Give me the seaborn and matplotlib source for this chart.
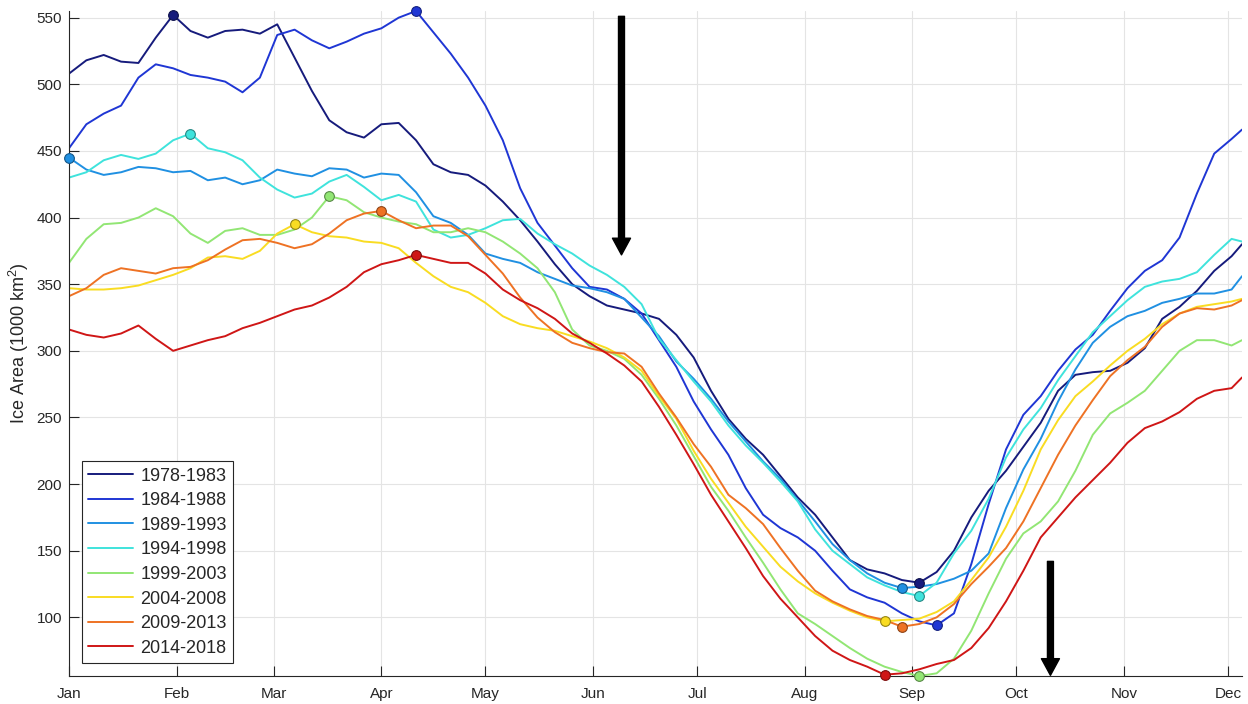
import numpy as np
import pandas as pd
import matplotlib
matplotlib.use('Agg')
import matplotlib.pyplot as plt
from matplotlib.lines import Line2D
import seaborn as sns

# sampling grid (day of year) and month ticks
days = list(range(1, 337, 5)) + [339]
month_days = [1, 32, 60, 91, 121, 152, 182, 213, 244, 274, 305, 335]
month_labels = ['Jan', 'Feb', 'Mar', 'Apr', 'May', 'Jun',
                'Jul', 'Aug', 'Sep', 'Oct', 'Nov', 'Dec']

periods = ['1978-1983', '1984-1988', '1989-1993', '1994-1998',
           '1999-2003', '2004-2008', '2009-2013', '2014-2018']
colors = ['#161b7c', '#1f36d4', '#2090e2', '#3fe3dc',
          '#92e674', '#f9dc22', '#ee7224', '#cf1616']

# ice area (1000 km2), every 5 days
s1978 = [508, 518, 522, 517, 516, 535, 552, 540, 535, 540,
         541, 538, 545, 520, 495, 473, 464, 460, 470, 471,
         458, 440, 434, 432, 424, 412, 398, 382, 365, 350,
         341, 334, 331, 328, 324, 312, 295, 270, 249, 234,
         222, 206, 190, 177, 160, 143, 136, 133, 128, 126,
         134, 150, 175, 195, 210, 228, 246, 270, 282, 284,
         285, 291, 302, 324, 333, 345, 360, 371, 380]
s1984 = [452, 470, 478, 484, 505, 515, 512, 507, 505, 502,
         494, 505, 537, 541, 533, 527, 532, 538, 542, 550,
         555, 539, 523, 505, 484, 458, 422, 396, 379, 362,
         348, 346, 339, 328, 308, 288, 262, 241, 222, 197,
         177, 167, 160, 150, 135, 121, 115, 111, 103, 97,
         94, 103, 140, 185, 226, 252, 266, 285, 301, 312,
         330, 347, 360, 368, 385, 418, 448, 459, 466]
s1989 = [445, 436, 432, 434, 438, 437, 434, 435, 428, 430,
         425, 428, 436, 433, 431, 437, 436, 430, 433, 432,
         419, 401, 396, 387, 373, 369, 366, 359, 354, 349,
         347, 344, 339, 325, 311, 292, 279, 264, 247, 232,
         217, 204, 188, 172, 155, 143, 133, 126, 122, 123,
         125, 129, 135, 148, 182, 211, 234, 262, 286, 306,
         318, 326, 330, 336, 339, 343, 343, 346, 356]
s1994 = [430, 434, 443, 447, 444, 448, 458, 463, 452, 449,
         443, 430, 421, 415, 418, 427, 432, 423, 413, 417,
         412, 391, 385, 387, 392, 398, 399, 388, 380, 373,
         364, 357, 348, 335, 309, 293, 277, 262, 244, 229,
         216, 202, 187, 166, 150, 140, 130, 124, 119, 116,
         126, 148, 165, 189, 220, 241, 257, 278, 296, 314,
         326, 338, 348, 352, 354, 359, 372, 384, 382]
s1999 = [366, 384, 395, 396, 400, 407, 401, 388, 381, 390,
         392, 387, 387, 391, 400, 416, 413, 404, 400, 397,
         395, 389, 389, 392, 389, 382, 373, 362, 344, 316,
         304, 300, 294, 282, 264, 244, 221, 198, 180, 160,
         141, 121, 103, 95, 86, 77, 69, 63, 59, 56,
         58, 69, 90, 118, 144, 163, 172, 187, 210, 237,
         253, 261, 270, 285, 300, 308, 308, 304, 308]
s2004 = [347, 346, 346, 347, 349, 353, 357, 362, 370, 371,
         369, 375, 388, 395, 389, 386, 385, 382, 381, 377,
         366, 356, 348, 344, 336, 326, 320, 317, 315, 311,
         307, 302, 295, 285, 266, 249, 225, 204, 186, 168,
         153, 138, 127, 118, 111, 105, 100, 97, 98, 99,
         104, 112, 128, 145, 168, 195, 226, 248, 266, 277,
         289, 300, 309, 320, 328, 333, 335, 337, 339]
s2009 = [341, 347, 357, 362, 360, 358, 362, 363, 368, 376,
         383, 384, 381, 377, 380, 388, 398, 403, 405, 398,
         392, 394, 394, 386, 372, 358, 340, 325, 314, 306,
         302, 299, 298, 288, 268, 250, 230, 213, 192, 182,
         170, 152, 135, 120, 112, 106, 101, 98, 93, 95,
         100, 110, 125, 138, 152, 172, 197, 222, 244, 263,
         281, 293, 303, 318, 328, 332, 331, 334, 338]
s2014 = [316, 312, 310, 313, 319, 309, 300, 304, 308, 311,
         317, 321, 326, 331, 334, 340, 348, 359, 365, 368,
         372, 369, 366, 366, 358, 346, 338, 332, 324, 313,
         306, 298, 289, 277, 258, 237, 215, 192, 172, 152,
         131, 114, 100, 86, 75, 68, 63, 57, 58, 61,
         65, 68, 77, 92, 112, 135, 160, 175, 190, 203,
         216, 231, 242, 247, 254, 264, 270, 272, 280]

series = [s1978, s1984, s1989, s1994, s1999, s2004, s2009, s2014]

df = pd.DataFrame({
    'day': days * len(series),
    'area': sum(series, []),
    'period': np.repeat(periods, len(days)),
})

sns.set_style('ticks', {'axes.edgecolor': '#262626',
                        'xtick.direction': 'in', 'ytick.direction': 'in'})
plt.rcParams['font.family'] = ['Liberation Sans', 'DejaVu Sans']
plt.rcParams['mathtext.default'] = 'regular'

fig = plt.figure(figsize=(12.48, 7.04), dpi=100)
ax = fig.add_axes([69 / 1248, 28 / 704, 1173 / 1248, 665 / 704])

sns.lineplot(data=df, x='day', y='area', hue='period', hue_order=periods,
             palette=colors, estimator=None, sort=False, linewidth=1.4,
             legend=False, ax=ax)

# max / min markers of each period
for vals, c in zip(series, colors):
    v = np.array(vals)
    edge = tuple(0.6 * np.array(matplotlib.colors.to_rgb(c)))
    for i in (v.argmax(), v.argmin()):
        ax.plot(days[i], v[i], 'o', ms=7, mfc=c, mec=edge, mew=0.8,
                clip_on=False, zorder=5)

ax.set_xlim(days[0], days[-1])
ax.set_ylim(df['area'].min(), df['area'].max())
ax.set_xticks(month_days, month_labels)
ax.set_yticks(range(100, 551, 50))
ax.set_xlabel('')
ax.set_ylabel('Ice Area (1000 km$^2$)', fontsize=13, color='#262626')

ax.grid(True, color='#e4e4e4', linewidth=0.8)
ax.set_axisbelow(True)
sns.despine(ax=ax)
for s in ('left', 'bottom'):
    ax.spines[s].set_linewidth(0.8)
ax.tick_params(axis='both', length=7, width=0.8, color='#262626',
               labelsize=11, labelcolor='#262626')
ax.tick_params(axis='x', pad=8)
ax.tick_params(axis='y', pad=5)

# arrows
arrow = dict(facecolor='black', edgecolor='black', width=4.3,
             headwidth=13, headlength=12, shrink=0)
ax.annotate('', xy=(160.2, 372), xytext=(160.2, 551), arrowprops=arrow,
            annotation_clip=False)
ax.annotate('', xy=(283.8, 56.5), xytext=(283.8, 142), arrowprops=arrow,
            annotation_clip=False)

handles = [Line2D([], [], color=c, linewidth=1.4) for c in colors]
leg = ax.legend(handles, periods, loc='lower left',
                bbox_to_anchor=(0.011, 0.0195), borderaxespad=0,
                fontsize=13, fancybox=False, framealpha=1,
                edgecolor='#262626', handlelength=2.5, handletextpad=0.4,
                labelspacing=0.42, borderpad=0.35)
leg.get_frame().set_linewidth(0.8)

fig.savefig('out.png', dpi=100)
